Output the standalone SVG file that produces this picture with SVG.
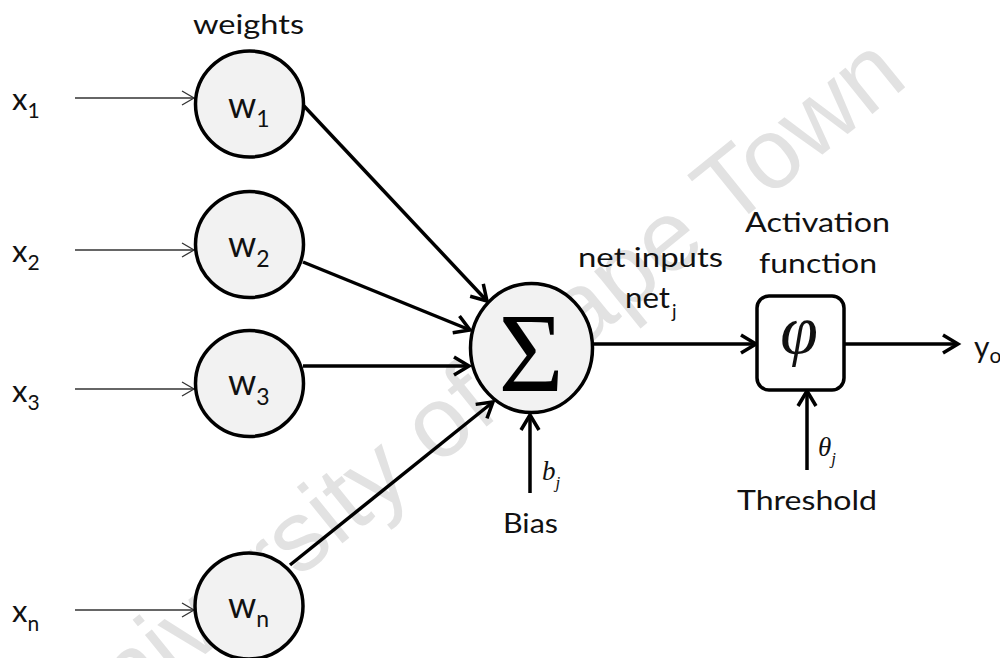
<svg xmlns="http://www.w3.org/2000/svg" width="1000" height="658" viewBox="0 0 1000 658">
<style>
.lbl{font-family:Lato,"Liberation Sans",sans-serif;fill:#111;}
.node{fill:#f2f2f2;stroke:#000;stroke-width:3.5;}
.thin{fill:none;stroke:#333;stroke-width:1.3;marker-end:url(#mThin);}
.thick{fill:none;stroke:#000;stroke-width:3.5;marker-end:url(#mThick);}
.math{font-family:"Liberation Serif","DejaVu Serif",serif;font-style:italic;fill:#111;}
</style>
<defs>
<marker id="mThin" markerUnits="userSpaceOnUse" viewBox="0 0 16 16" markerWidth="16" markerHeight="16" refX="13" refY="8" orient="auto">
<path d="M1,1 L13,8 L1,15" fill="none" stroke="#333" stroke-width="1.3"/>
</marker>
<marker id="mThick" markerUnits="userSpaceOnUse" viewBox="0 0 24 24" markerWidth="24" markerHeight="24" refX="19" refY="12" orient="auto">
<path d="M4,3 L19,12 L4,21" fill="none" stroke="#000" stroke-width="3.5" stroke-linejoin="miter"/>
</marker>
</defs>
<rect width="1000" height="658" fill="#fff"/>
<text id="watermark" x="492" y="422" text-anchor="middle" transform="rotate(-39 492 422)" font-family="Liberation Sans,sans-serif" font-size="100" fill="#e2e2e2">University of Cape Town</text>

<g id="connectors">
<line class="thin" x1="75" y1="98" x2="194" y2="98"/>
<line class="thin" x1="75" y1="250" x2="194" y2="250"/>
<line class="thin" x1="75" y1="389" x2="194" y2="389"/>
<line class="thin" x1="75" y1="610" x2="194" y2="610"/>
<line class="thick" x1="304" y1="106" x2="487" y2="301"/>
<line class="thick" x1="303" y1="262" x2="470" y2="330"/>
<line class="thick" x1="303" y1="366" x2="469" y2="366"/>
<line class="thick" x1="290" y1="565" x2="493" y2="402"/>
<line class="thick" x1="593" y1="344" x2="756" y2="344"/>
<line class="thick" x1="845" y1="344" x2="958" y2="344"/>
<line class="thick" x1="530" y1="493" x2="530" y2="415"/>
<line class="thick" x1="807" y1="470" x2="807" y2="391"/>
</g>

<g id="inputs">
<text class="lbl" x="12" y="110" font-size="31">x<tspan dy="8" font-size="21">1</tspan></text>
<text class="lbl" x="12" y="262" font-size="31">x<tspan dy="8" font-size="21">2</tspan></text>
<text class="lbl" x="12" y="402" font-size="31">x<tspan dy="8" font-size="21">3</tspan></text>
<text class="lbl" x="12" y="622" font-size="31">x<tspan dy="9" font-size="21">n</tspan></text>
</g>

<text id="weights-label" class="lbl" x="193" y="34" font-size="27" textLength="111" lengthAdjust="spacingAndGlyphs">weights</text>

<g id="w1">
<ellipse class="node" cx="249.5" cy="104" rx="54" ry="53"/>
<text class="lbl" x="228" y="118" font-size="36">w<tspan dy="9" font-size="23">1</tspan></text>
</g>
<g id="w2">
<ellipse class="node" cx="249.5" cy="244.5" rx="54" ry="53"/>
<text class="lbl" x="228" y="257" font-size="36">w<tspan dy="10" font-size="23">2</tspan></text>
</g>
<g id="w3">
<ellipse class="node" cx="249.5" cy="383.5" rx="54" ry="53"/>
<text class="lbl" x="228" y="395" font-size="36">w<tspan dy="10" font-size="23">3</tspan></text>
</g>
<g id="wn">
<ellipse class="node" cx="249" cy="606" rx="54" ry="53"/>
<text class="lbl" x="228" y="618" font-size="36">w<tspan dy="9" font-size="23">n</tspan></text>
</g>

<g id="sum">
<ellipse class="node" cx="531.5" cy="348" rx="61" ry="64.5"/>
<text x="531" y="391" text-anchor="middle" font-family="Liberation Serif,serif" font-size="112" fill="#000">Σ</text>
</g>

<g id="bias">
<text class="math" x="542" y="480" font-size="27">b<tspan dy="8" font-size="17">j</tspan></text>
<text class="lbl" x="503" y="533" font-size="27" textLength="55" lengthAdjust="spacingAndGlyphs">Bias</text>
</g>

<g id="net-label">
<text class="lbl" x="578" y="267" font-size="27" textLength="145" lengthAdjust="spacingAndGlyphs">net inputs</text>
<text class="lbl" x="625" y="308" font-size="28" textLength="45" lengthAdjust="spacingAndGlyphs">net</text>
<text class="lbl" x="672" y="318" font-size="19">j</text>
</g>

<g id="activation">
<rect x="757" y="296" width="87" height="94" rx="12" ry="12" fill="#fff" stroke="#000" stroke-width="3.5"/>
<text class="math" x="799" y="353" text-anchor="middle" font-size="68">φ</text>
<text class="lbl" x="745" y="232" font-size="27" textLength="145" lengthAdjust="spacingAndGlyphs">Activation</text>
<text class="lbl" x="759" y="273" font-size="27" textLength="118" lengthAdjust="spacingAndGlyphs">function</text>
</g>

<g id="threshold">
<text class="math" x="818" y="456" font-size="27">θ<tspan dy="8" font-size="17">j</tspan></text>
<text class="lbl" x="737" y="510" font-size="27" textLength="140" lengthAdjust="spacingAndGlyphs">Threshold</text>
</g>

<g id="output">
<text class="lbl" x="974" y="358" font-size="30">y<tspan dy="5" font-size="21">o</tspan></text>
</g>
</svg>
